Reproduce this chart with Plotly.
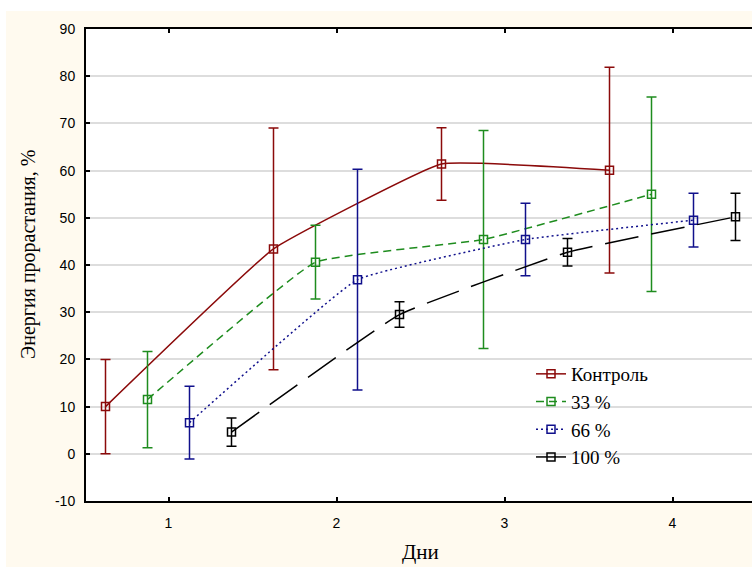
import plotly.graph_objects as go

days = [1, 2, 3, 4]
series_names = ["Контроль", "33 %", "66 %", "100 %"]
offsets = [-0.375, -0.125, 0.125, 0.375]

control_mean = [10.0, 43.4, 61.4, 60.1]
control_err = [10.0, 25.6, 7.7, 21.8]
p33_mean = [11.5, 40.6, 45.4, 55.0]
p33_err = [10.2, 7.8, 23.1, 20.6]
p66_mean = [6.6, 36.9, 45.4, 49.5]
p66_err = [7.7, 23.4, 7.7, 5.7]
p100_mean = [4.6, 29.5, 42.7, 50.2]
p100_err = [3.0, 2.7, 2.9, 5.0]

y_ticks = list(range(-10, 100, 10))
y_ticktext = [str(v) for v in y_ticks]

means = [control_mean, p33_mean, p66_mean, p100_mean]
errs = [control_err, p33_err, p66_err, p100_err]
colors = ["#8B0A0A", "#1E8C1E", "#10108C", "#000000"]
dashes = ["solid", "8px,5px", "2px,3px", "34px,13px"]

fig = go.Figure()
for name, m, e, c, d, off in zip(series_names, means, errs, colors, dashes, offsets):
    fig.add_trace(go.Scatter(
        x=[dd + off for dd in days], y=m, name=name,
        mode="lines+markers",
        line=dict(color=c, width=1.5, dash=d, shape="spline", smoothing=0.3),
        marker=dict(symbol="square-open", size=8, color=c, line=dict(width=1.5, color=c)),
        error_y=dict(type="data", array=e, visible=True, color=c, thickness=1.5, width=5),
    ))

L, T, B = 86, 29, 66
W, H = 752, 567
pw = W - L
ph = H - T - B

fig.update_layout(
    width=W, height=H,
    margin=dict(l=L, r=0, t=T, b=B, pad=0),
    paper_bgcolor="#FFFAEF",
    plot_bgcolor="#FFFFFF",
    showlegend=True,
    legend=dict(
        x=(531 - L) / pw, y=(501 - 355) / ph, xanchor="left", yanchor="top",
        bgcolor="rgba(0,0,0,0)", font=dict(family="Liberation Serif", size=19, color="#000"),
        itemwidth=30, tracegroupgap=0,
    ),
    xaxis=dict(
        range=[1 - (168.5 - L) / 168, 1 + (W - 168.5) / 168],
        tickvals=days, ticktext=[str(d) for d in days],
        showgrid=False, zeroline=False,
        showline=True, linecolor="#000", linewidth=2, mirror="ticks",
        ticks="inside", ticklen=4, tickcolor="#000", tickwidth=1.5,
        tickfont=dict(family="Liberation Sans", size=14, color="#000"),
        ticklabelstandoff=8,
    ),
    yaxis=dict(
        range=[-10, 90],
        tickvals=y_ticks, ticktext=y_ticktext,
        showgrid=True, gridcolor="#DDDDDD", gridwidth=1.5,
        zeroline=False,
        showline=True, linecolor="#000", linewidth=2, mirror=False,
        ticks="inside", ticklen=4, tickcolor="#000", tickwidth=1.5,
        tickfont=dict(family="Liberation Sans", size=14, color="#000"),
        ticklabelstandoff=6,
    ),
    annotations=[
        dict(text="Энергия прорастания, %", xref="paper", yref="paper",
             x=(29 - L) / pw, y=(501 - 255) / ph, textangle=-90, showarrow=False,
             xanchor="center", yanchor="middle",
             font=dict(family="Liberation Serif", size=20, color="#000")),
        dict(text="Дни", xref="paper", yref="paper",
             x=(420 - L) / pw, y=(501 - 552) / ph, showarrow=False,
             xanchor="center", yanchor="middle",
             font=dict(family="Liberation Serif", size=21, color="#000")),
    ],
    shapes=[
        dict(type="rect", xref="paper", yref="paper", layer="above",
             x0=-L / pw - 0.01, x1=1.01, y0=(501 - 11) / ph, y1=(501 + 5) / ph,
             fillcolor="#FFFFFF", line=dict(width=0)),
        dict(type="rect", xref="paper", yref="paper", layer="above",
             x0=-L / pw - 0.01, x1=(6 - L) / pw, y0=(501 - 600) / ph, y1=(501 + 5) / ph,
             fillcolor="#FFFFFF", line=dict(width=0)),
    ],
)

fig.write_html("out.html", config={"displayModeBar": False},
               post_script="document.body.style.margin='0px';document.body.style.overflow='hidden';")
